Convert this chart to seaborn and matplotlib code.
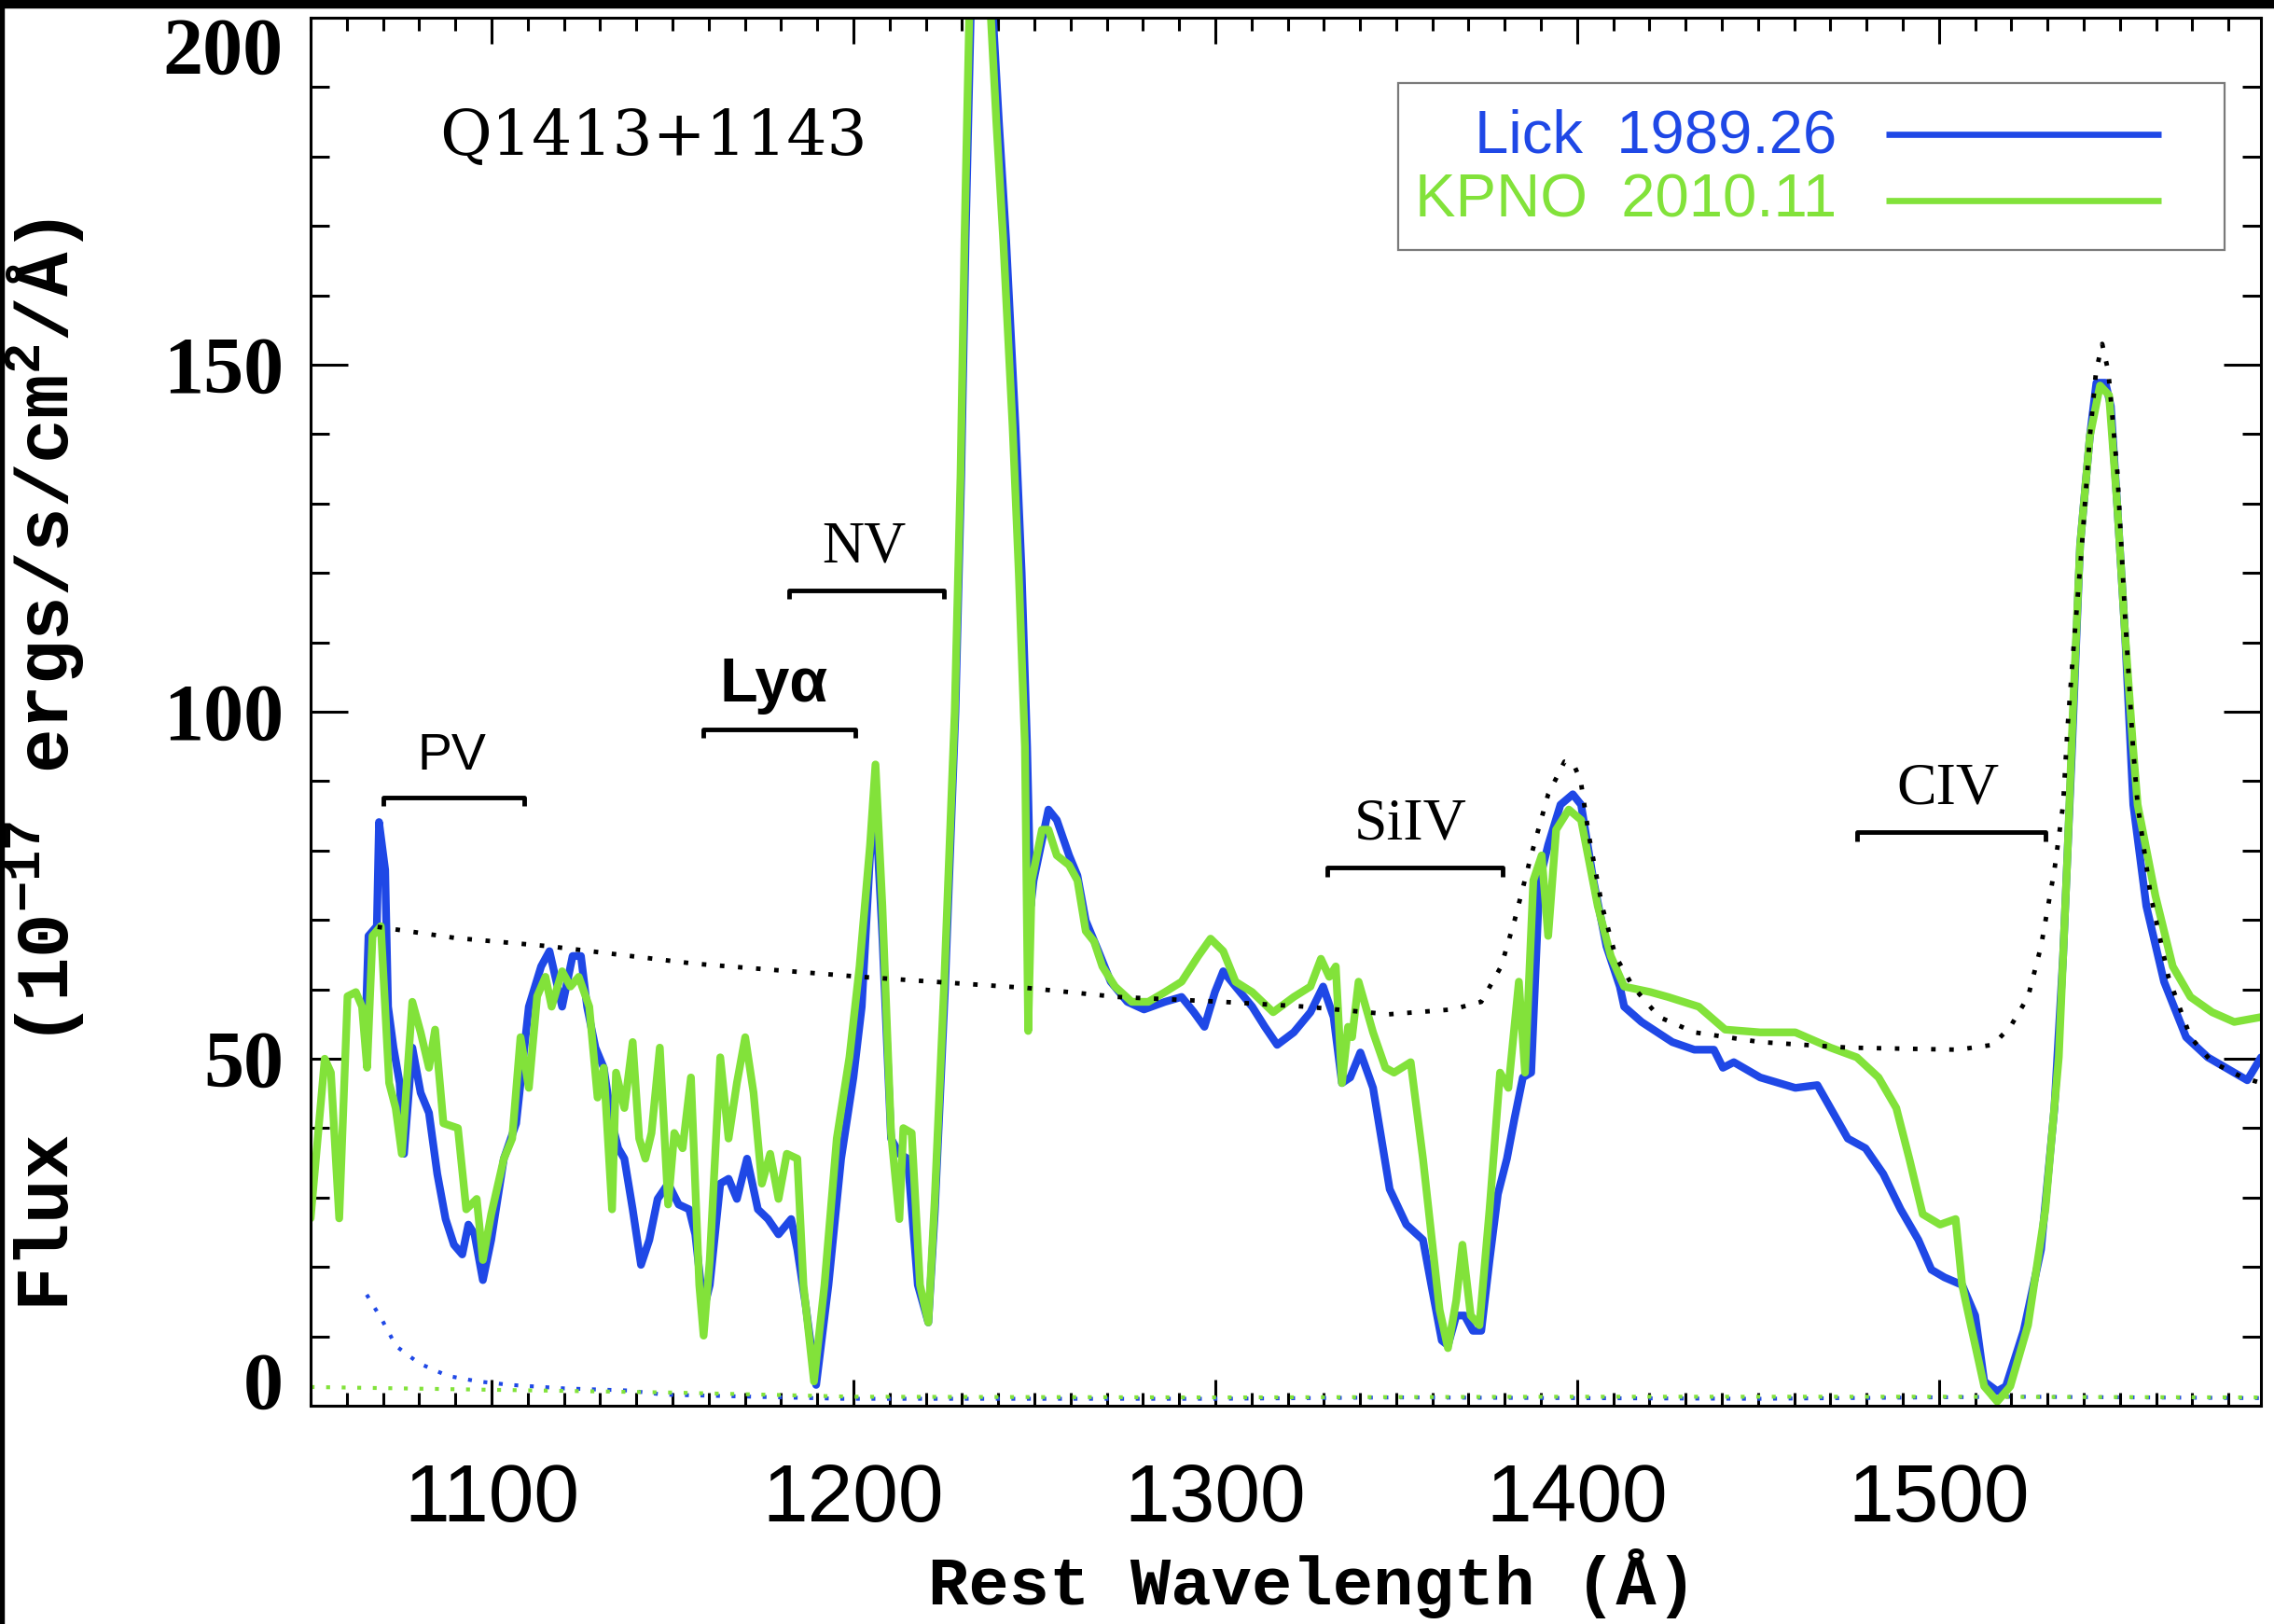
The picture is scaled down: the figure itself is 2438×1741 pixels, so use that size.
import matplotlib
matplotlib.use("Agg")
import matplotlib.pyplot as plt
import pandas as pd
import seaborn as sns
from matplotlib.patches import Rectangle
from matplotlib.ticker import MultipleLocator
from matplotlib.transforms import ScaledTranslation

# %% data (rest wavelength in A, flux in 1e-17 erg/s/cm2/A)
lick_wave = [1065.4, 1066.0, 1068.3, 1068.9, 1070.6, 1071.4, 1072.9, 1074.6, 1075.8, 1078.1,
             1080.4, 1082.7, 1085.0, 1087.3, 1089.6, 1091.9, 1093.6, 1095.3, 1097.6, 1099.9,
             1103.4, 1106.8, 1110.3, 1113.7, 1116.0, 1119.5, 1122.4, 1124.7, 1126.4, 1128.7,
             1131.0, 1133.3, 1135.0, 1136.7, 1139.0, 1141.3, 1143.6, 1145.9, 1148.8, 1151.7,
             1154.6, 1156.3, 1158.6, 1160.3, 1163.2, 1165.5, 1167.8, 1170.6, 1173.6, 1176.4,
             1179.3, 1182.8, 1184.5, 1186.8, 1189.7, 1193.1, 1196.6, 1200.0, 1202.3, 1204.6,
             1206.1, 1208.0, 1210.4, 1212.7, 1215.0, 1217.8, 1220.7, 1222.5, 1225.3, 1228.2,
             1229.8, 1231.0, 1232.4, 1234.5, 1236.5, 1238.6, 1240.2, 1242.2, 1244.8, 1246.5,
             1248.0, 1249.0, 1249.8, 1253.9, 1256.2, 1259.6, 1261.9, 1264.2, 1267.7, 1271.1,
             1275.7, 1280.3, 1286.1, 1290.7, 1294.1, 1297.0, 1299.9, 1302.2, 1305.6, 1310.2,
             1313.7, 1317.1, 1321.7, 1326.3, 1329.8, 1332.7, 1335.0, 1337.3, 1340.1, 1343.6,
             1345.9, 1348.2, 1352.8, 1357.4, 1359.7, 1362.6, 1364.3, 1366.6, 1368.9, 1371.2,
             1373.5, 1375.8, 1378.1, 1380.6, 1382.7, 1385.0, 1387.3, 1389.6, 1392.0, 1395.4,
             1398.8, 1401.1, 1404.5, 1408.1, 1411.8, 1413.0, 1417.8, 1426.3, 1432.4, 1437.8,
             1440.3, 1443.3, 1450.6, 1460.3, 1466.4, 1470.0, 1474.8, 1479.7, 1484.6, 1489.4,
             1494.3, 1497.9, 1501.5, 1506.4, 1510.0, 1512.5, 1516.1, 1518.5, 1523.4, 1528.2,
             1531.9, 1534.3, 1536.7, 1539.0, 1541.7, 1543.5, 1546.0, 1547.5, 1549.3, 1551.4,
             1553.7, 1557.3, 1562.2, 1568.3, 1574.3, 1581.6, 1585.2, 1589.0]
lick_flux = [58.2, 67.7, 69.1, 84.1, 77.2, 57.5, 51.6, 46.5, 36.3, 51.6,
             45.1, 42.2, 33.4, 26.9, 23.2, 21.8, 26.1, 24.7, 18.1, 23.9,
             35.6, 40.7, 57.5, 63.3, 65.5, 57.5, 64.8, 64.8, 57.5, 51.6,
             48.7, 40.7, 37.1, 35.6, 28.3, 20.3, 23.9, 29.8, 32.0, 29.0,
             28.3, 24.7, 13.8, 17.4, 32.0, 32.7, 29.8, 35.6, 28.3, 26.9,
             24.7, 26.9, 22.5, 14.5, 3.0, 17.4, 35.6, 47.3, 57.5, 79.3,
             86.6, 67.7, 38.5, 36.3, 35.6, 17.4, 12.0, 28.0, 60.0, 100.0,
             134.0, 168.0, 200.0, 213.0, 213.0, 200.0, 185.0, 168.0, 141.0, 120.0,
             95.0, 72.0, 75.7, 85.9, 84.4, 79.3, 76.4, 69.9, 65.5, 61.1,
             58.2, 57.1, 58.2, 58.9, 56.7, 54.6, 59.6, 62.6, 60.4, 57.5,
             54.6, 52.0, 53.8, 56.7, 60.4, 56.0, 46.5, 47.3, 50.9, 45.8,
             38.5, 31.2, 26.1, 23.9, 17.4, 9.4, 8.7, 13.0, 13.0, 10.8,
             10.8, 21.0, 30.5, 35.6, 41.4, 47.3, 48.0, 75.7, 80.8, 86.6,
             88.1, 86.6, 75.7, 66.2, 60.4, 57.5, 55.3, 52.4, 51.3, 51.3,
             48.7, 49.5, 47.3, 45.8, 46.2, 42.9, 38.5, 37.1, 33.4, 28.3,
             23.9, 19.6, 18.5, 17.4, 13.0, 3.5, 2.1, 2.8, 10.8, 22.5,
             42.9, 64.8, 93.9, 124.0, 139.7, 147.4, 147.4, 144.0, 129.4, 111.4,
             86.6, 72.0, 61.1, 53.1, 50.2, 48.0, 46.9, 50.2]

kpno_wave = [1050.0, 1053.9, 1055.6, 1057.9, 1060.2, 1062.5, 1064.2, 1065.6, 1067.1, 1069.4,
             1071.7, 1073.5, 1075.2, 1078.1, 1080.4, 1082.7, 1084.4, 1086.7, 1090.7, 1093.0,
             1095.9, 1097.6, 1099.9, 1103.4, 1105.7, 1108.0, 1110.3, 1112.6, 1114.9, 1116.6,
             1119.5, 1121.8, 1124.1, 1127.0, 1129.3, 1131.0, 1133.3, 1134.4, 1136.7, 1139.0,
             1140.8, 1142.5, 1144.2, 1146.5, 1148.8, 1150.5, 1152.8, 1155.1, 1157.4, 1158.6,
             1160.3, 1163.2, 1165.5, 1167.8, 1170.1, 1172.4, 1174.7, 1177.0, 1179.3, 1181.6,
             1184.5, 1186.2, 1189.1, 1192.0, 1195.4, 1198.9, 1201.7, 1204.6, 1206.1, 1208.0,
             1210.4, 1212.7, 1213.8, 1216.1, 1218.4, 1220.7, 1222.5, 1225.1, 1228.0, 1229.6,
             1230.7, 1232.0, 1234.0, 1236.0, 1238.0, 1239.5, 1241.4, 1244.0, 1245.7, 1247.4,
             1248.3, 1249.3, 1252.1, 1253.9, 1256.2, 1259.6, 1261.9, 1264.2, 1266.5, 1268.8,
             1272.3, 1276.9, 1281.5, 1286.1, 1290.7, 1295.3, 1298.7, 1302.2, 1305.6, 1310.2,
             1316.0, 1321.7, 1326.3, 1329.2, 1331.5, 1333.3, 1335.0, 1336.7, 1337.8, 1339.6,
             1343.6, 1347.0, 1349.4, 1354.0, 1357.4, 1359.7, 1362.0, 1364.3, 1366.6, 1368.3,
             1370.6, 1373.0, 1375.8, 1378.7, 1381.0, 1383.9, 1385.6, 1387.9, 1390.2, 1392.0,
             1394.2, 1397.7, 1401.1, 1405.7, 1409.3, 1413.0, 1420.3, 1425.1, 1433.6, 1440.9,
             1450.6, 1460.3, 1470.0, 1477.3, 1483.3, 1488.2, 1491.8, 1495.5, 1500.3, 1504.6,
             1506.4, 1508.8, 1512.5, 1516.1, 1519.7, 1524.6, 1529.4, 1533.1, 1535.5, 1537.0,
             1539.0, 1541.7, 1544.5, 1547.0, 1549.3, 1551.4, 1553.6, 1554.9, 1559.8, 1564.6,
             1569.5, 1575.5, 1581.6, 1589.0]
kpno_flux = [27.0, 50.0, 48.0, 27.0, 59.0, 59.6, 57.5, 48.7, 67.7, 69.1,
             46.5, 42.9, 36.3, 58.2, 53.8, 48.7, 54.2, 40.7, 40.0, 28.3,
             29.8, 21.0, 27.6, 35.6, 38.5, 53.1, 45.8, 59.0, 61.8, 57.5,
             62.6, 60.4, 61.8, 57.5, 44.4, 48.7, 28.3, 48.0, 42.9, 52.4,
             38.5, 35.6, 39.3, 51.6, 29.0, 39.3, 37.1, 47.3, 17.4, 10.1,
             21.0, 50.2, 38.5, 46.5, 53.1, 45.1, 32.0, 36.3, 29.8, 36.3,
             35.6, 17.4, 3.5, 17.4, 38.5, 50.2, 63.3, 80.8, 92.4, 72.0,
             39.3, 26.9, 40.0, 39.3, 17.4, 12.0, 30.0, 61.0, 100.0, 134.0,
             168.0, 200.0, 212.0, 212.0, 200.0, 185.0, 168.0, 141.0, 120.0, 95.0,
             54.0, 75.7, 83.0, 83.0, 79.3, 77.9, 75.7, 68.4, 66.9, 63.3,
             60.4, 58.2, 58.2, 59.6, 61.1, 64.8, 67.3, 65.5, 61.1, 59.6,
             56.7, 58.9, 60.4, 64.4, 61.8, 63.3, 46.5, 54.6, 53.1, 61.1,
             53.8, 48.7, 48.0, 49.5, 35.6, 24.7, 13.8, 8.3, 15.2, 23.2,
             13.0, 11.6, 28.3, 48.0, 45.8, 61.1, 48.0, 75.7, 79.3, 67.7,
             83.0, 85.9, 84.4, 72.0, 64.8, 60.4, 59.6, 58.9, 57.5, 54.2,
             53.8, 53.8, 51.6, 50.2, 47.3, 42.9, 35.6, 27.6, 26.1, 26.9,
             17.4, 11.6, 2.8, 0.6, 2.8, 11.6, 28.3, 50.2, 79.3, 100.0,
             124.0, 139.7, 147.0, 145.6, 129.4, 111.4, 95.0, 86.6, 73.5, 63.3,
             58.9, 56.7, 55.3, 56.0]

# continuum + emission-line model (black dotted)
model_wave = [1068.5, 1090.0, 1116.0, 1156.0, 1202.0, 1222.0, 1248.0, 1273.0, 1302.0, 1325.0,
              1348.0, 1365.5, 1373.5, 1379.0, 1382.7, 1387.3, 1392.0, 1396.5, 1399.0, 1401.0,
              1403.3, 1406.9, 1410.6, 1415.4, 1422.7, 1432.4, 1450.6, 1474.8, 1505.2, 1514.9,
              1519.7, 1524.6, 1528.2, 1531.9, 1534.3, 1535.5, 1537.0, 1539.5, 1541.7, 1543.4,
              1545.1, 1546.8, 1549.3, 1551.4, 1553.6, 1554.9, 1558.5, 1563.4, 1569.5, 1575.5,
              1584.0, 1589.0]
model_flux = [69.0, 67.4, 66.2, 63.7, 61.8, 61.1, 60.2, 58.9, 58.2, 57.5,
              56.4, 57.1, 58.2, 63.3, 69.9, 79.3, 88.1, 92.8, 92.5, 90.0,
              82.0, 72.0, 64.8, 60.4, 56.0, 53.8, 52.4, 51.6, 51.3, 52.0,
              54.6, 58.9, 66.2, 77.2, 86.6, 97.5, 108.0, 124.0, 139.7, 149.0,
              153.0, 149.0, 134.5, 114.0, 95.0, 86.6, 73.5, 61.8, 53.1, 49.5,
              47.3, 46.5]

# 1-sigma error spectra (dotted, along the bottom)
lick_err_wave = [1065.5, 1069.7, 1073.6, 1080.0, 1087.9, 1096.3, 1105.2, 1120.0, 1137.7, 1147.6,
                 1197.0, 1250.0, 1300.0, 1350.0, 1400.0, 1450.0, 1520.0, 1589.0]
lick_err = [16.0, 12.4, 8.6, 6.1, 4.3, 3.5, 3.0, 2.5, 2.2, 1.6,
            1.0, 1.0, 1.0, 1.2, 1.1, 1.0, 1.3, 1.1]
kpno_err_wave = [1050.0, 1100.0, 1150.0, 1200.0, 1300.0, 1400.0, 1500.0, 1589.0]
kpno_err = [2.7, 2.3, 1.9, 1.3, 1.2, 1.3, 1.3, 1.2]

# absorption troughs: label, start, end, bar height, label position
trough_names = ["PV", "Ly\u03b1", "NV", "SiIV", "CIV"]
trough_start = [1070.0, 1158.6, 1182.2, 1331.0, 1477.3]
trough_end = [1109.1, 1200.6, 1225.1, 1379.3, 1529.4]
trough_level = [87.7, 97.5, 117.5, 77.5, 82.6]
trough_label_x = [1089.0, 1178.0, 1203.0, 1354.0, 1502.5]
trough_label_y = [93.5, 103.7, 123.6, 83.7, 88.8]

BLUE = "#1f48e6"
GREEN = "#82e23a"

# %% style
sns.set_theme(style="ticks")
plt.rcParams.update({
    "font.family": ["Liberation Mono", "DejaVu Sans"],
    "mathtext.fontset": "custom",
    "mathtext.rm": "Liberation Mono:bold",
    "mathtext.it": "Liberation Mono:bold",
    "mathtext.bf": "Liberation Mono:bold",
    "axes.linewidth": 2.2,
    "text.color": "black",
    "axes.labelcolor": "black",
    "xtick.color": "black",
    "ytick.color": "black",
    "xtick.labelcolor": "black",
    "ytick.labelcolor": "black",
})

fig = plt.figure(figsize=(24.38, 17.41), dpi=100)
ax = fig.add_axes([0.1366, 0.1344, 0.8577, 0.8547])

# screenshot frame: black strip on top and left
fig.patches.append(Rectangle((0, 1 - 8 / 1741), 1, 8 / 1741, transform=fig.transFigure,
                             color="black", zorder=10))
fig.patches.append(Rectangle((0, 0), 4 / 2438, 1, transform=fig.transFigure,
                             color="black", zorder=10))

lick = pd.DataFrame({"wave": lick_wave, "flux": lick_flux})
kpno = pd.DataFrame({"wave": kpno_wave, "flux": kpno_flux})
model = pd.DataFrame({"wave": model_wave, "flux": model_flux})
lick_e = pd.DataFrame({"wave": lick_err_wave, "flux": lick_err})
kpno_e = pd.DataFrame({"wave": kpno_err_wave, "flux": kpno_err})

sns.lineplot(data=lick_e, x="wave", y="flux", ax=ax, color=BLUE, lw=3,
             linestyle=(0, (1, 3)), estimator=None)
sns.lineplot(data=kpno_e, x="wave", y="flux", ax=ax, color=GREEN, lw=3,
             linestyle=(0, (1, 3)), estimator=None)
sns.lineplot(data=lick, x="wave", y="flux", ax=ax, color=BLUE, lw=6, estimator=None)
sns.lineplot(data=kpno, x="wave", y="flux", ax=ax, color=GREEN, lw=6, estimator=None)
sns.lineplot(data=model, x="wave", y="flux", ax=ax, color="black", lw=3.5,
             linestyle=(0, (1, 3)), estimator=None)

# trough markers
label_fonts = {
    "PV": dict(family="Liberation Sans", size=40),
    "Ly\u03b1": dict(family="Liberation Sans", size=48, weight="bold"),
    "NV": dict(family="Liberation Serif", size=45),
    "SiIV": dict(family="Liberation Serif", size=46),
    "CIV": dict(family="Liberation Serif", size=46),
}
for name, x0, x1, lev, lx, ly in zip(trough_names, trough_start, trough_end,
                                     trough_level, trough_label_x, trough_label_y):
    ax.plot([x0, x0, x1, x1], [lev - 1.3, lev, lev, lev - 1.3], color="black", lw=3.5,
            solid_capstyle="butt")
    ax.text(lx, ly, name, ha="center", va="center", color="black", **label_fonts[name])

ax.text(1144.6, 182.7, "Q1413+1143", ha="center", va="center", family="DejaVu Serif",
        size=49, color="black")

# legend box drawn by hand: text on the left, line sample on the right
ax.add_patch(Rectangle((0.5576, 0.8327), 0.9813 - 0.5576, 0.9530 - 0.8327,
                       transform=ax.transAxes, fill=True, facecolor="white",
                       edgecolor="#7a7a7a", lw=1.6, zorder=5))
for txt, col, ty, ly in [("Lick  1989.26", BLUE, 0.9032, 0.9160),
                         ("KPNO  2010.11", GREEN, 0.8562, 0.8683)]:
    ax.text(0.7824, ty, txt, transform=ax.transAxes, ha="right", va="baseline",
            family="Liberation Sans", size=47, color=col, zorder=6)
    ax.plot([0.8077, 0.9488], [ly, ly], transform=ax.transAxes, color=col, lw=4.8,
            solid_capstyle="butt", zorder=6)

# axes
ax.set_xlim(1050, 1589)
ax.set_ylim(0, 200)
ax.set_xticks([1100, 1200, 1300, 1400, 1500])
ax.set_yticks([0, 50, 100, 150, 200])
ax.xaxis.set_minor_locator(MultipleLocator(10))
ax.yaxis.set_minor_locator(MultipleLocator(10))
ax.tick_params(direction="in", top=True, right=True, which="both", width=2.2,
               color="black", labelcolor="black")
ax.tick_params(axis="x", which="major", length=20, pad=44)
ax.tick_params(axis="x", which="minor", length=10)
ax.tick_params(axis="y", which="major", length=29, pad=21)
ax.tick_params(axis="y", which="minor", length=14.5)
for lab in ax.get_xticklabels():
    lab.set_fontfamily("Liberation Sans")
    lab.set_fontsize(63)
for lab in ax.get_yticklabels():
    lab.set_fontfamily("Liberation Serif")
    lab.set_fontweight("bold")
    lab.set_fontsize(62)
for s in ax.spines.values():
    s.set_color("black")
    s.set_linewidth(2.2)

# end labels sit inside the axis range
yt = ax.yaxis.get_major_ticks()
yt[0].label1.set_transform(yt[0].label1.get_transform()
                           + ScaledTranslation(0, 0.27, fig.dpi_scale_trans))
yt[-1].label1.set_transform(yt[-1].label1.get_transform()
                            + ScaledTranslation(0, -0.30, fig.dpi_scale_trans))

ax.set_xlabel("Rest Wavelength (\u00c5)", family="Liberation Mono", weight="bold",
              size=52, color="black")
ax.xaxis.set_label_coords(0.5136, -0.1025)
ax.set_ylabel("Flux  (10$^{-17}$ ergs/s/cm$^{2}$/\u00c5)", family="Liberation Mono",
              weight="bold", size=57, color="black")
ax.yaxis.set_label_coords(-0.1148, 0.4617)

fig.savefig("out.png", dpi=100, facecolor="white")
